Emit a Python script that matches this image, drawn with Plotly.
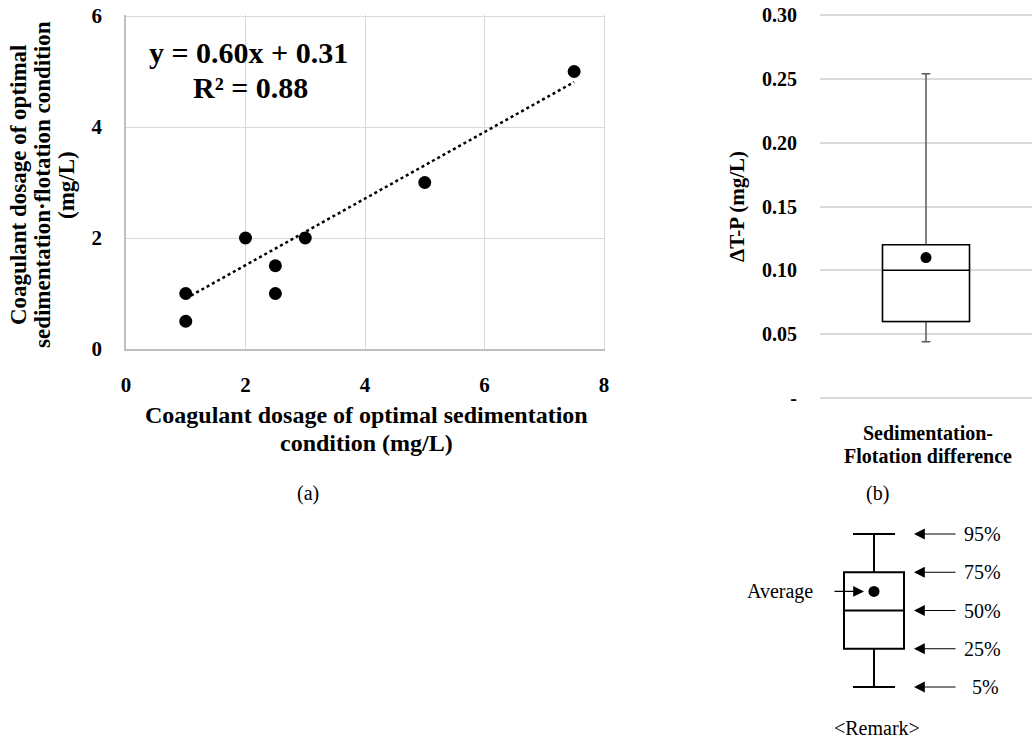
import plotly.graph_objects as go

# ---------------- data ----------------
# (a) scatter: optimal coagulant dosage (mg/L)
sed_dosage = [1, 1, 2, 2.5, 2.5, 3, 5, 7.5]
flot_dosage = [1, 0.5, 2, 1.5, 1, 2, 3, 5]
trend_slope = 0.60
trend_intercept = 0.31
eq_text = ["y = 0.60x + 0.31", "R² = 0.88"]

# (b) box plot of ΔT-P (mg/L)
box_category = ["Sedimentation-Flotation difference"]
box_p5 = [0.044]
box_q1 = [0.06]
box_median = [0.10]
box_q3 = [0.12]
box_p95 = [0.254]
box_mean = [0.11]
box_ticks = [0, 0.05, 0.10, 0.15, 0.20, 0.25, 0.30]
box_ticktext = ["-", "0.05", "0.10", "0.15", "0.20", "0.25", "0.30"]

# remark (schematic legend)
remark_levels = [0, 1, 2, 3, 4]
remark_labels = ["5%", "25%", "50%", "75%", "95%"]
remark_mean_level = 2.5

# ---------------- layout helpers ----------------
W, H = 1032, 743
def X(px):
    return px / W
def Y(py):
    return 1 - py / H

SERIF = "Liberation Serif"
BOLD = dict(family=SERIF, color="black", weight="bold")

fig = go.Figure()

# (a) scatter + trend
trend_x = [min(sed_dosage), max(sed_dosage)]
trend_y = [trend_slope * v + trend_intercept for v in trend_x]
fig.add_trace(go.Scatter(x=trend_x, y=trend_y, mode="lines",
                         line=dict(color="black", width=2.5, dash="dot"),
                         xaxis="x", yaxis="y", hoverinfo="skip"))
fig.add_trace(go.Scatter(x=sed_dosage, y=flot_dosage, mode="markers",
                         marker=dict(color="black", size=13),
                         xaxis="x", yaxis="y"))

# (b) box: gray whiskers, black box
fig.add_trace(go.Box(x=box_category, q1=box_q1, median=box_median, q3=box_q3,
                     lowerfence=box_p5, upperfence=box_p95,
                     line=dict(color="#595959", width=1.5), fillcolor="white",
                     whiskerwidth=0.1, width=0.41, boxpoints=False,
                     xaxis="x2", yaxis="y2", hoverinfo="skip"))
fig.add_trace(go.Box(x=box_category, q1=box_q1, median=box_median, q3=box_q3,
                     lowerfence=box_q1, upperfence=box_q3,
                     line=dict(color="black", width=1.5), fillcolor="white",
                     whiskerwidth=0, width=0.41, boxpoints=False,
                     xaxis="x2", yaxis="y2", hoverinfo="skip"))
fig.add_trace(go.Scatter(x=box_category, y=box_mean, mode="markers",
                         marker=dict(color="black", size=11),
                         xaxis="x2", yaxis="y2"))

# remark schematic
fig.add_trace(go.Box(x=[0], q1=[remark_levels[1]], median=[remark_levels[2]],
                     q3=[remark_levels[3]], lowerfence=[remark_levels[0]],
                     upperfence=[remark_levels[4]],
                     line=dict(color="black", width=2), fillcolor="white",
                     whiskerwidth=0.7, width=1.0, boxpoints=False,
                     xaxis="x3", yaxis="y3", hoverinfo="skip"))
fig.add_trace(go.Scatter(x=[0], y=[remark_mean_level], mode="markers",
                         marker=dict(color="black", size=11),
                         xaxis="x3", yaxis="y3"))

grid = "#d9d9d9"
# small padding so edge grid lines are not clipped
fig.update_layout(
    template="none",
    width=W, height=H, margin=dict(l=0, r=0, t=0, b=0, pad=0),
    paper_bgcolor="white", plot_bgcolor="white", showlegend=False,
    boxmode="overlay",
    xaxis=dict(domain=[X(126), X(605.2)], range=[0, 8.02], tickvals=[0, 2, 4, 6, 8],
               showgrid=True, gridcolor=grid, gridwidth=1,
               showline=True, linecolor="#bfbfbf", linewidth=1.5,
               zeroline=False, ticks="", ticklabelstandoff=16, automargin=False,
               tickfont=dict(size=21, **BOLD)),
    yaxis=dict(domain=[Y(349), Y(14.9)], range=[0, 6.02], tickvals=[0, 2, 4, 6],
               showgrid=True, gridcolor=grid, gridwidth=1,
               showline=True, linecolor="#bfbfbf", linewidth=1.5,
               zeroline=False, ticks="", ticklabelstandoff=18, automargin=False,
               tickfont=dict(size=21, **BOLD)),
    xaxis2=dict(domain=[X(820), X(1032)], type="category", range=[-0.5, 0.5],
                anchor="y2", showticklabels=False, showgrid=False, showline=False,
                zeroline=False, ticks="", automargin=False),
    yaxis2=dict(domain=[Y(399.3), Y(13.7)], range=[-0.001, 0.301], anchor="x2",
                tickvals=box_ticks, ticktext=box_ticktext,
                showgrid=True, gridcolor=grid, gridwidth=1.5,
                showline=False, zeroline=False, ticks="", automargin=False,
                ticklabelstandoff=22, tickfont=dict(size=20, **BOLD)),
    xaxis3=dict(domain=[X(814), X(934)], range=[-1, 1], anchor="y3",
                visible=False, automargin=False),
    yaxis3=dict(domain=[Y(706.1), Y(514.9)], range=[-0.5, 4.5], anchor="x3",
                visible=False, automargin=False),
)

ann = []
def text(x, y, s, size, bold=True, xanchor="center", angle=0, xref="paper", yref="paper", xshift=0):
    f = dict(family=SERIF, size=size, color="black")
    if bold:
        f["weight"] = "bold"
    ann.append(dict(x=x, y=y, xref=xref, yref=yref, text=s, showarrow=False,
                    font=f, xanchor=xanchor, yanchor="middle", textangle=angle,
                    xshift=xshift))

# (a) texts
text(X(248), Y(53), eq_text[0], 30)
text(X(250), Y(88), eq_text[1], 30)
text(X(366), Y(415), "Coagulant dosage of optimal sedimentation", 24)
text(X(366), Y(443), "condition (mg/L)", 24)
text(X(18), Y(185), "Coagulant dosage of optimal", 23, angle=-90)
text(X(42), Y(185), "sedimentation·flotation condition", 23, angle=-90)
text(X(66), Y(185), "(mg/L)", 23, angle=-90)
text(X(308), Y(493), "(a)", 20, bold=False)

# (b) texts
text(X(737), Y(207), "ΔT-P (mg/L)", 21, angle=-90)
text(X(928), Y(433), "Sedimentation-", 20)
text(X(928), Y(456), "Flotation difference", 20)
text(X(877), Y(493), "(b)", 20, bold=False)

# remark texts and arrows
for lvl, lab in zip(remark_levels, remark_labels):
    ann.append(dict(x=X(914), y=lvl, xref="paper", yref="y3", ax=43, ay=0,
                    text="", showarrow=True, arrowhead=2, arrowsize=1.8,
                    arrowwidth=1.2, arrowcolor="black"))
    text(X(962), lvl, lab, 20, bold=False, xanchor="left", yref="y3",
         xshift=8 if lab == "5%" else 0)
ann.append(dict(x=X(864), y=remark_mean_level, xref="paper", yref="y3", ax=-31, ay=0,
                text="", showarrow=True, arrowhead=2, arrowsize=1.8,
                arrowwidth=1.2, arrowcolor="black"))
text(X(815), remark_mean_level, "Average", 20, bold=False, xanchor="right", yref="y3")
text(X(877), Y(728), "&lt;Remark&gt;", 20, bold=False)

fig.update_layout(annotations=ann)

fig.write_html("out.html", config={"displayModeBar": False},
               post_script="document.body.style.margin='0';")
